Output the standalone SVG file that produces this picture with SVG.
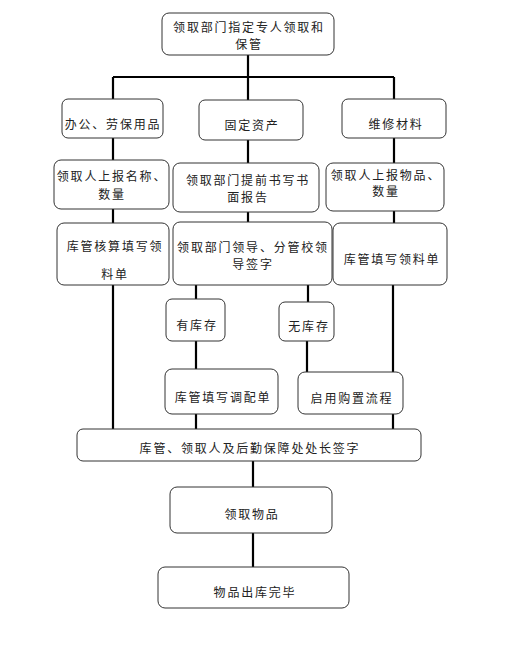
<svg xmlns="http://www.w3.org/2000/svg" width="509" height="648" viewBox="0 0 509 648">
<style>
.n rect{fill:#fff;stroke:#333;stroke-width:1}
.n text{font-family:"Noto Sans CJK SC","Liberation Sans",sans-serif;font-size:12px;letter-spacing:1.8px;fill:#222;text-anchor:middle;dominant-baseline:central}
#connectors path{fill:none;stroke:#000;stroke-width:2.2}
</style>
<rect width="509" height="648" fill="#fff"/>
<g id="connectors">
<path d="M248 55V77M113 77H394M113 77V99M248 77V100M394 77V99"/>
<path d="M113 138V160M248 140V163M394 138V163"/>
<path d="M113 209V223M248 212V222M394 211V223"/>
<path d="M113 285V429M196 285V299M196 341V369M196 414V429M308 285V302M307 341V372M393 285V429"/>
<path d="M253 461V487M253 533V567"/>
</g>
<g id="n1" class="n"><rect x="162" y="13" width="172" height="42" rx="7"/><text x="249" y="26">领取部门指定专人领取和</text><text x="249" y="43">保管</text></g>
<g id="n2" class="n"><rect x="62" y="99" width="101" height="39" rx="6"/><text x="113" y="123">办公、劳保用品</text></g>
<g id="n3" class="n"><rect x="199" y="100" width="104" height="40" rx="6"/><text x="252" y="124">固定资产</text></g>
<g id="n4" class="n"><rect x="342" y="99" width="104" height="39" rx="6"/><text x="396" y="123">维修材料</text></g>
<g id="n5" class="n"><rect x="54" y="160" width="115" height="49" rx="7"/><text x="112" y="175">领取人上报名称、</text><text x="112" y="193">数量</text></g>
<g id="n6" class="n"><rect x="173" y="163" width="146" height="49" rx="7"/><text x="248" y="179">领取部门提前书写书</text><text x="248" y="196">面报告</text></g>
<g id="n7" class="n"><rect x="326" y="163" width="118" height="48" rx="7"/><text x="386" y="174">领取人上报物品、</text><text x="386" y="190">数量</text></g>
<g id="n8" class="n"><rect x="57" y="223" width="112" height="62" rx="7"/><text x="115" y="245">库管核算填写领</text><text x="115" y="273">料单</text></g>
<g id="n9" class="n"><rect x="173" y="222" width="159" height="63" rx="7"/><text x="253" y="246">领取部门领导、分管校领</text><text x="253" y="263">导签字</text></g>
<g id="n10" class="n"><rect x="333" y="223" width="114" height="62" rx="7"/><text x="392" y="258">库管填写领料单</text></g>
<g id="n11" class="n"><rect x="166" y="299" width="59" height="42" rx="6"/><text x="197" y="324">有库存</text></g>
<g id="n12" class="n"><rect x="279" y="302" width="55" height="39" rx="6"/><text x="309" y="325">无库存</text></g>
<g id="n13" class="n"><rect x="165" y="369" width="113" height="45" rx="7"/><text x="223" y="396">库管填写调配单</text></g>
<g id="n14" class="n"><rect x="298" y="372" width="105" height="42" rx="7"/><text x="352" y="397">启用购置流程</text></g>
<g id="n15" class="n"><rect x="77" y="429" width="344" height="32" rx="6"/><text x="250" y="447">库管、领取人及后勤保障处处长签字</text></g>
<g id="n16" class="n"><rect x="170" y="487" width="162" height="46" rx="7"/><text x="252" y="513">领取物品</text></g>
<g id="n17" class="n"><rect x="158" y="567" width="191" height="41" rx="7"/><text x="255" y="591">物品出库完毕</text></g>
</svg>
